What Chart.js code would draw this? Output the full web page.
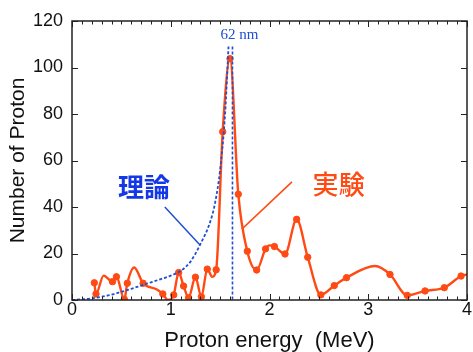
<!DOCTYPE html>
<html>
<head>
<meta charset="utf-8">
<script src="https://cdn.jsdelivr.net/npm/chart.js@4.4.1/dist/chart.umd.min.js"></script>
<style>
  html, body { margin: 0; padding: 0; background: #fff; }
  #wrap { width: 473px; height: 352px; }
</style>
</head>
<body>
<div id="wrap"><canvas id="chart" width="473" height="352"></canvas></div>
<script>
// measured points (with markers)
const expE = [0.226, 0.243, 0.41, 0.45, 0.53, 0.56, 0.72, 0.92, 1.03, 1.08, 1.13, 1.18, 1.25, 1.31, 1.37, 1.46,
  1.526, 1.60, 1.684, 1.775, 1.87, 1.96, 2.05, 2.157, 2.275, 2.387, 2.52, 2.656, 2.78, 3.22, 3.395, 3.575, 3.77, 3.94];
const expN = [7.4, 2.6, 7.9, 10.0, 0.3, 7.2, 7.2, 2.6, 2.2, 11.8, 6.0, 1.0, 9.8, 1.4, 13.3, 13.0,
  72.4, 103.8, 45.5, 21.0, 12.9, 22.0, 23.0, 19.8, 34.7, 18.4, 2.2, 6.2, 9.6, 11.0, 2.0, 3.9, 5.3, 10.3];

// extra points of the smooth curve between the markers
const bendE = [0.32, 0.63, 0.86, 0.97, 1.42, 2.00, 3.07, 4.00];
const bendN = [10.5, 14.0, 4.5, 0.0, 10.0, 23.5, 14.6, 11.0];

// theory curve (dashed)
const theoryE = [0, 0.1, 0.2, 0.3, 0.4, 0.5, 0.6, 0.7, 0.8, 0.9, 1.0, 1.1, 1.2, 1.3, 1.4, 1.45, 1.5, 1.55, 1.585];
const theoryN = [0, 0.3, 0.7, 1.4, 2.3, 3.5, 4.8, 6.2, 7.6, 9.0, 10.5, 12.5, 16.5, 24.0, 33.7, 42.0, 56.0, 80.0, 109.0];
const cutoffE = 1.625;
const cutoffTop = 109;
const cutoffLabel = "62 nm";

const xTicks = [0, 1, 2, 3, 4];
const yTicks = [0, 20, 40, 60, 80, 100, 120];

// annotation texts and pointer lines, in data units
const theoryText = "理論";
const theoryTextAt = [0.73, 48.6];
const theoryPointer = [[0.94, 40.0], [1.296, 23.7]];
const expText = "実験";
const expTextAt = [2.70, 49.9];
const expPointer = [[2.228, 50.8], [1.72, 30.5]];

const ORANGE = "#ff4a14";
const BLUE = "#1f4fd2";
const BLUE_TEXT = "#1438e6";

const toXY = (xs, ys) => xs.map((x, i) => ({ x: x, y: ys[i] }));
const curvePts = toXY(expE, expN).concat(toXY(bendE, bendN)).sort((a, b) => a.x - b.x);

const framePlugin = {
  id: "frame",
  afterDraw(chart) {
    const ctx = chart.ctx;
    const a = chart.chartArea;
    const xs = chart.scales.x, ys = chart.scales.y;
    ctx.save();
    // box
    ctx.strokeStyle = "#222";
    ctx.lineWidth = 1.5;
    ctx.strokeRect(a.left, a.top, a.right - a.left, a.bottom - a.top);
    // ticks, pointing inward
    ctx.lineWidth = 1;
    ctx.beginPath();
    for (let i = 0; i <= 40; i++) {
      const px = Math.round(xs.getPixelForValue(i / 10)) + 0.5;
      const len = i % 10 === 0 ? 6 : 3.5;
      ctx.moveTo(px, a.bottom); ctx.lineTo(px, a.bottom - len);
      ctx.moveTo(px, a.top); ctx.lineTo(px, a.top + len);
    }
    yTicks.forEach(v => {
      const py = Math.round(ys.getPixelForValue(v)) + 0.5;
      ctx.moveTo(a.left, py); ctx.lineTo(a.left + 6, py);
      ctx.moveTo(a.right, py); ctx.lineTo(a.right - 6, py);
    });
    ctx.stroke();

    // cutoff label
    ctx.fillStyle = BLUE;
    ctx.font = "15px 'Liberation Serif'";
    ctx.textAlign = "center";
    ctx.textBaseline = "alphabetic";
    ctx.fillText(cutoffLabel, xs.getPixelForValue(cutoffE) + 7, 39);

    // pointers
    const line = (p, color) => {
      ctx.strokeStyle = color;
      ctx.lineWidth = 1.5;
      ctx.beginPath();
      ctx.moveTo(xs.getPixelForValue(p[0][0]), ys.getPixelForValue(p[0][1]));
      ctx.lineTo(xs.getPixelForValue(p[1][0]), ys.getPixelForValue(p[1][1]));
      ctx.stroke();
    };
    line(theoryPointer, BLUE);
    line(expPointer, ORANGE);

    ctx.textBaseline = "middle";
    ctx.fillStyle = BLUE_TEXT;
    ctx.font = "bold 26px 'Noto Sans CJK JP'";
    ctx.fillText(theoryText, xs.getPixelForValue(theoryTextAt[0]), ys.getPixelForValue(theoryTextAt[1]));
    ctx.fillStyle = ORANGE;
    ctx.font = "500 26px 'Noto Sans CJK JP'";
    ctx.fillText(expText, xs.getPixelForValue(expTextAt[0]), ys.getPixelForValue(expTextAt[1]));
    ctx.restore();
  }
};

new Chart(document.getElementById("chart"), {
  type: "scatter",
  data: {
    datasets: [
      {
        label: "theory",
        data: toXY(theoryE, theoryN),
        showLine: true,
        borderColor: BLUE,
        borderWidth: 1.8,
        borderDash: [3, 2],
        pointRadius: 0,
        cubicInterpolationMode: "monotone"
      },
      {
        label: "cutoff",
        data: [{ x: cutoffE, y: cutoffTop }, { x: cutoffE, y: 0 }],
        showLine: true,
        borderColor: BLUE,
        borderWidth: 1.6,
        borderDash: [3, 2],
        pointRadius: 0
      },
      {
        label: "curve",
        data: curvePts,
        showLine: true,
        borderColor: ORANGE,
        borderWidth: 2.4,
        pointRadius: 0,
        cubicInterpolationMode: "monotone"
      },
      {
        label: "measured",
        data: toXY(expE, expN),
        showLine: false,
        backgroundColor: ORANGE,
        borderColor: ORANGE,
        pointRadius: 3.2
      }
    ]
  },
  plugins: [framePlugin],
  options: {
    responsive: false,
    animation: false,
    layout: { padding: { left: 0, right: 6, top: 21, bottom: 0 } },
    plugins: { legend: { display: false }, tooltip: { enabled: false } },
    scales: {
      x: {
        type: "linear",
        min: 0, max: 4,
        afterFit: s => { s.height = 52; },
        afterBuildTicks: s => { s.ticks = xTicks.map(v => ({ value: v })); },
        grid: { display: false, drawTicks: false },
        border: { display: false },
        ticks: { color: "#111", font: { family: "Liberation Sans", size: 18 }, padding: -1 },
        title: {
          display: true,
          text: "Proton energy  (MeV)",
          color: "#111",
          font: { family: "Liberation Sans", size: 22 },
          padding: { top: 0, bottom: -2 }
        }
      },
      y: {
        min: 0, max: 120,
        afterFit: s => { s.width = 72; },
        afterBuildTicks: s => { s.ticks = yTicks.map(v => ({ value: v })); },
        grid: { display: false, drawTicks: false },
        border: { display: false },
        ticks: { color: "#111", font: { family: "Liberation Sans", size: 18 }, padding: 9 },
        title: {
          display: true,
          text: "Number of Proton",
          color: "#111",
          font: { family: "Liberation Sans", size: 21 },
          padding: { top: 6, bottom: 0 }
        }
      }
    }
  }
});
</script>
</body>
</html>
